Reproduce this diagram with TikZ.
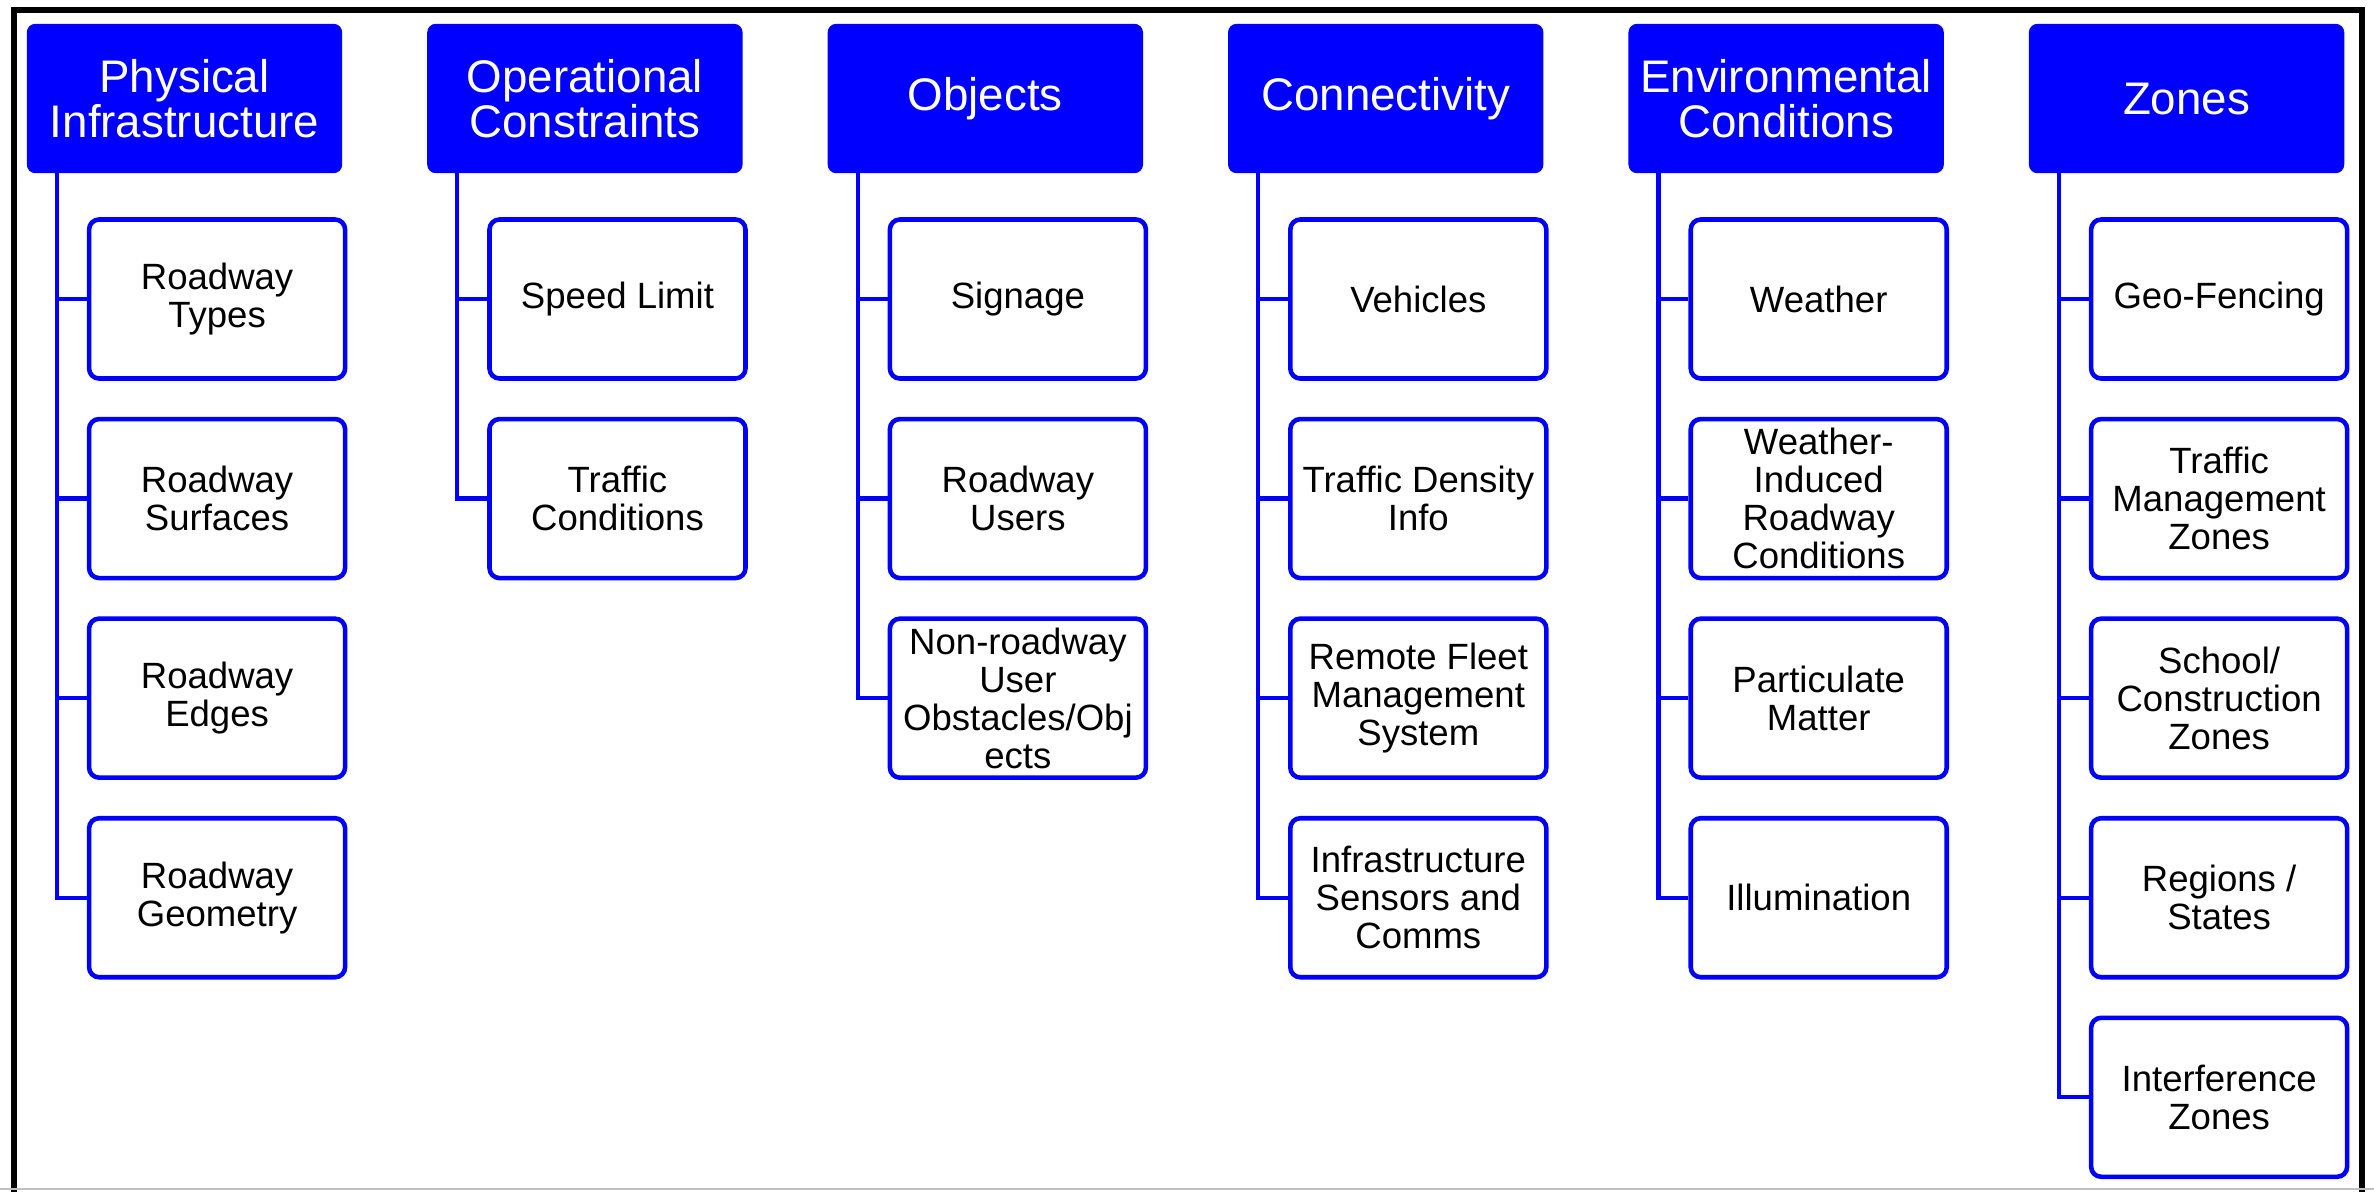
\documentclass[tikz,border=0pt]{standalone}
\usepackage{fontspec}
\setmainfont{Liberation Sans}
\usepackage{tikz}
\usetikzlibrary{positioning}
\tikzset{
  Kopf/.style={draw=blue, fill=blue, text=white, rounded corners=0.8mm,
    minimum width=31.4mm, minimum height=14.8mm, inner sep=0pt, align=center,
    font={\fontsize{13}{12.8}\selectfont}}, % Überschriften
  Punkt/.style={draw=blue, fill=white, line width=1.3pt, rounded corners=1mm,
    minimum width=25.6mm, minimum height=15.9mm, inner sep=0pt, align=center,
    font={\fontsize{10.4}{10.8}\selectfont}}, % Unterpunkte
  Ast/.style={blue, line width=1.2pt} % Verbindungslinien
}

\begin{document}
\begin{tikzpicture}[node distance=3.6mm]
\useasboundingbox (0,0) rectangle (23.74,-11.91);

%Rahmen
\draw[line width=1.7pt] (0.14,-11.95) |- (23.62,-0.10) -- (23.62,-11.95);
\draw[black!25, line width=0.8pt] (0,-11.89) -- (23.74,-11.89);

%Kopfzeile
\node[Kopf] (PI) at (1.845,-0.985) {Physical\\Infrastructure};
\node[Kopf, right=8.5mm of PI] (OC) {Operational\\Constraints};
\node[Kopf, right=8.5mm of OC] (OB) {Objects};
\node[Kopf, right=8.5mm of OB] (CO) {Connectivity};
\node[Kopf, right=8.5mm of CO] (EC) {Environmental\\Conditions};
\node[Kopf, right=8.5mm of EC] (ZO) {Zones};

%Unterpunkte
\node[Punkt, anchor=north west] (PI1) at ([xshift=6mm, yshift=-4.4mm]PI.south west) {Roadway\\Types};
\node[Punkt, below=of PI1] (PI2) {Roadway\\Surfaces};
\node[Punkt, below=of PI2] (PI3) {Roadway\\Edges};
\node[Punkt, below=of PI3] (PI4) {Roadway\\Geometry};

\node[Punkt, anchor=north west] (OC1) at ([xshift=6mm, yshift=-4.4mm]OC.south west) {Speed Limit};
\node[Punkt, below=of OC1] (OC2) {Traffic\\Conditions};

\node[Punkt, anchor=north west] (OB1) at ([xshift=6mm, yshift=-4.4mm]OB.south west) {Signage};
\node[Punkt, below=of OB1] (OB2) {Roadway\\Users};
\node[Punkt, below=of OB2] (OB3) {Non-roadway\\User\\Obstacles/Obj\\ects};

\node[Punkt, anchor=north west] (CO1) at ([xshift=6mm, yshift=-4.4mm]CO.south west) {Vehicles};
\node[Punkt, below=of CO1] (CO2) {Traffic Density\\Info};
\node[Punkt, below=of CO2] (CO3) {Remote Fleet\\Management\\System};
\node[Punkt, below=of CO3] (CO4) {Infrastructure\\Sensors and\\Comms};

\node[Punkt, anchor=north west] (EC1) at ([xshift=6mm, yshift=-4.4mm]EC.south west) {Weather};
\node[Punkt, below=of EC1] (EC2) {Weather-\\Induced\\Roadway\\Conditions};
\node[Punkt, below=of EC2] (EC3) {Particulate\\Matter};
\node[Punkt, below=of EC3] (EC4) {Illumination};

\node[Punkt, anchor=north west] (ZO1) at ([xshift=6mm, yshift=-4.4mm]ZO.south west) {Geo-Fencing};
\node[Punkt, below=of ZO1] (ZO2) {Traffic\\Management\\Zones};
\node[Punkt, below=of ZO2] (ZO3) {School/\\Construction\\Zones};
\node[Punkt, below=of ZO3] (ZO4) {Regions /\\States};
\node[Punkt, below=of ZO4] (ZO5) {Interference\\Zones};

%Verbindungen
\draw[Ast] ([xshift=3mm]PI.south west) |- (PI1.west);
\draw[Ast] ([xshift=3mm]PI.south west) |- (PI2.west);
\draw[Ast] ([xshift=3mm]PI.south west) |- (PI3.west);
\draw[Ast] ([xshift=3mm]PI.south west) |- (PI4.west);

\draw[Ast] ([xshift=3mm]OC.south west) |- (OC1.west);
\draw[Ast] ([xshift=3mm]OC.south west) |- (OC2.west);

\draw[Ast] ([xshift=3mm]OB.south west) |- (OB1.west);
\draw[Ast] ([xshift=3mm]OB.south west) |- (OB2.west);
\draw[Ast] ([xshift=3mm]OB.south west) |- (OB3.west);

\draw[Ast] ([xshift=3mm]CO.south west) |- (CO1.west);
\draw[Ast] ([xshift=3mm]CO.south west) |- (CO2.west);
\draw[Ast] ([xshift=3mm]CO.south west) |- (CO3.west);
\draw[Ast] ([xshift=3mm]CO.south west) |- (CO4.west);

\draw[Ast] ([xshift=3mm]EC.south west) |- (EC1.west);
\draw[Ast] ([xshift=3mm]EC.south west) |- (EC2.west);
\draw[Ast] ([xshift=3mm]EC.south west) |- (EC3.west);
\draw[Ast] ([xshift=3mm]EC.south west) |- (EC4.west);

\draw[Ast] ([xshift=3mm]ZO.south west) |- (ZO1.west);
\draw[Ast] ([xshift=3mm]ZO.south west) |- (ZO2.west);
\draw[Ast] ([xshift=3mm]ZO.south west) |- (ZO3.west);
\draw[Ast] ([xshift=3mm]ZO.south west) |- (ZO4.west);
\draw[Ast] ([xshift=3mm]ZO.south west) |- (ZO5.west);

\end{tikzpicture}
\end{document}
